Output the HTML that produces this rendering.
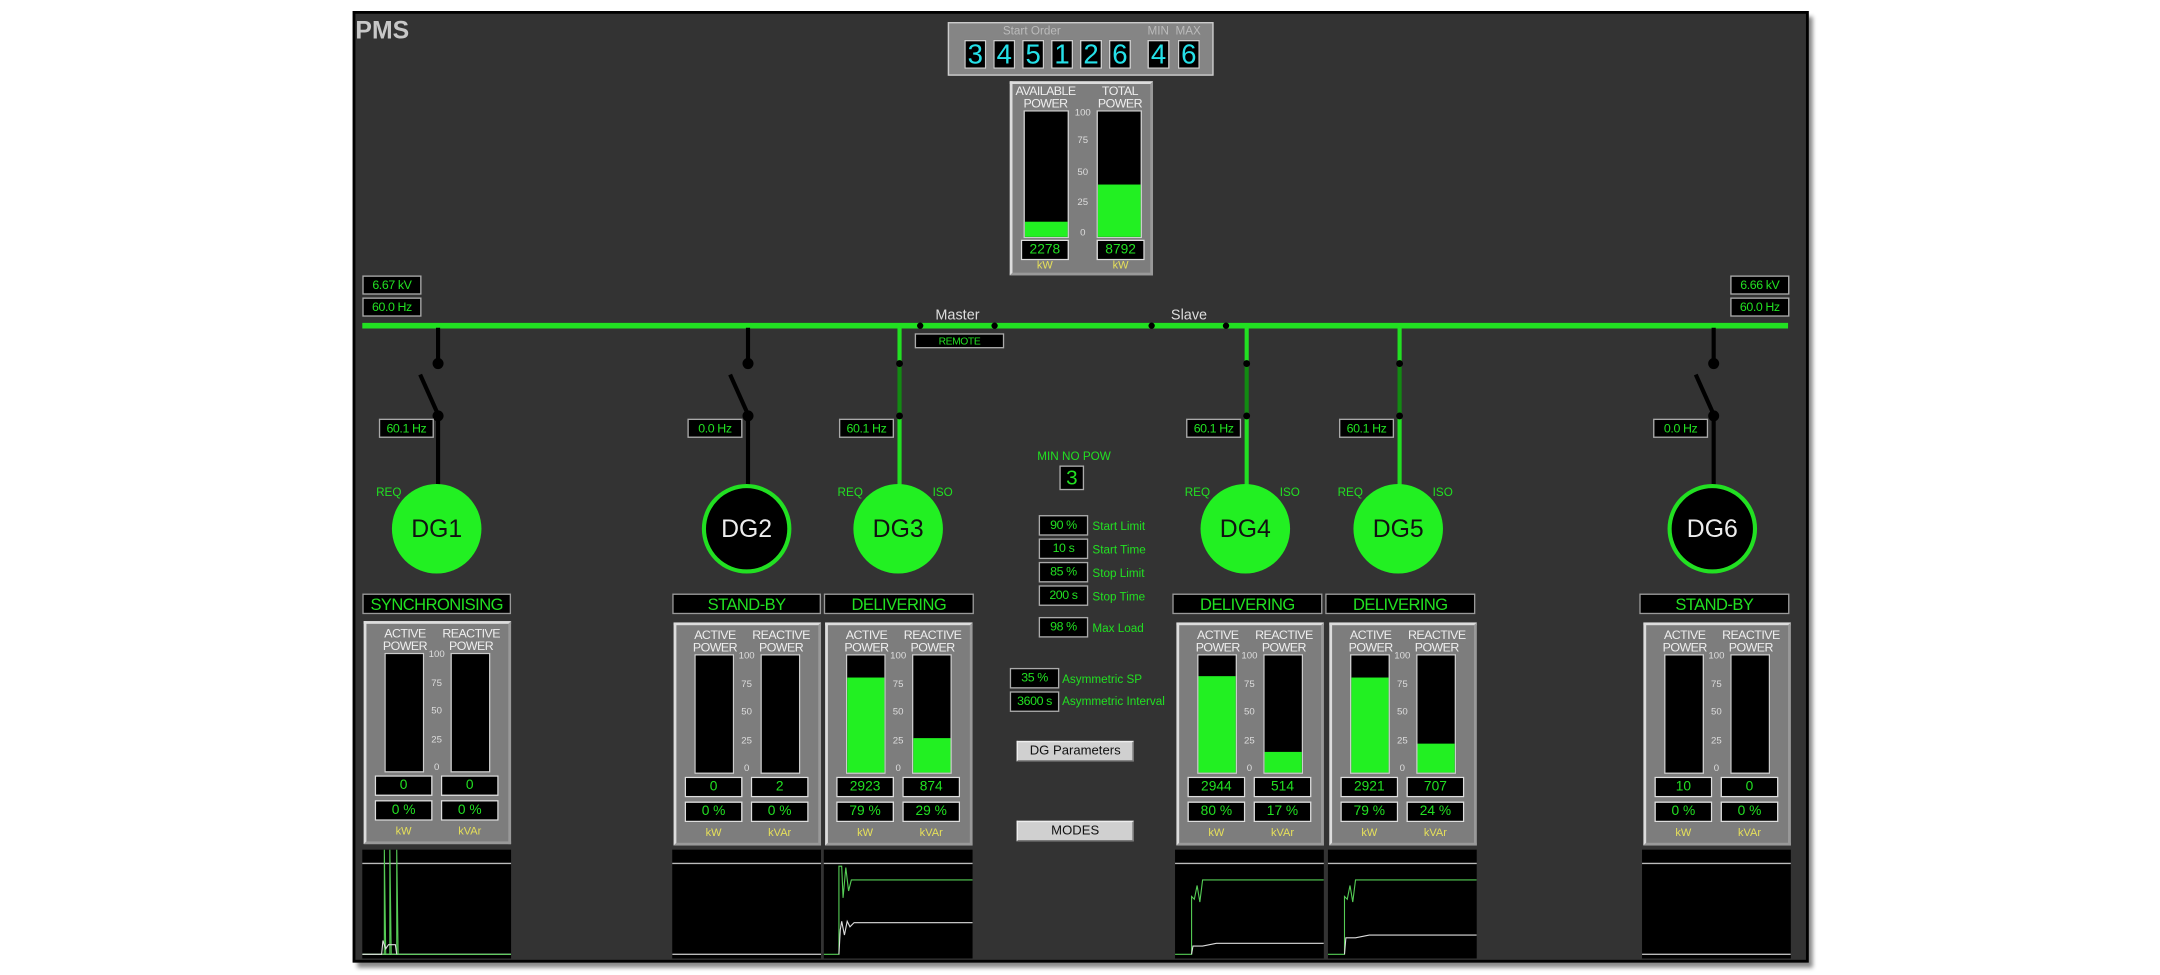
<!DOCTYPE html>
<html><head><meta charset="utf-8">
<style>
html,body{margin:0;padding:0;background:#fff;width:2160px;height:975px;overflow:hidden}
#s{position:absolute;left:0;top:0;width:1568px;height:708px;transform:scale(1.37755,1.3771);transform-origin:0 0;font-family:"Liberation Sans Narrow","Liberation Sans",sans-serif}
#s div{position:absolute;box-sizing:border-box}
.frame{left:256px;top:8px;width:1057px;height:691px;background:#333;border:2px solid #000;box-shadow:3px 4px 3px #888}
.g{color:#22e022}
.box{background:#000;border:1px solid #aaa;color:#22e022;text-align:center;font-size:9px;line-height:13px;white-space:nowrap;letter-spacing:-0.3px}
.hdr{background:#000;border:1px solid #999;color:#22e022;text-align:center;font-size:12px;line-height:14px;white-space:nowrap;letter-spacing:-0.4px}
.pnl{background:#7d7d7d;border:2px solid #ddd;border-right-color:#999;border-bottom-color:#999}
.lab{color:#eee;font-size:9px;line-height:9px;text-align:center;letter-spacing:-0.4px;white-space:nowrap}
.bar{background:#000;border:1px solid #ccc}
.fill{background:#22f022;left:0;right:0;bottom:0}
.sc{color:#ddd;font-size:7px;text-align:center;width:18px}
.vb{background:#000;border:1px solid #ddd;color:#22e022;text-align:center;font-size:10px;line-height:13px;width:42px;height:15px}
.un{color:#e6e05a;font-size:8px;text-align:center;width:42px}
.chart{background:#000}
.pl{color:#22e022;font-size:8.5px;line-height:10px;white-space:nowrap}
.btn{background:#d0d0d0;border:1px solid #eee;border-right-color:#777;border-bottom-color:#777;color:#111;font-size:9.5px;line-height:13px;text-align:center}
.dig{background:#000;border:1px solid #ccc;color:#25e0e8;font-size:20px;line-height:20px;text-align:center;width:16px;height:21px}
</style></head><body>
<div id="s">
<div class="frame"></div>
<div style="left:258px;top:12px;color:#c8c8c8;font-size:18px;font-weight:bold;font-family:'Liberation Sans',sans-serif">PMS</div>

<div style="left:688px;top:16px;width:193px;height:39px;background:#858585;border:1px solid #ccc"></div>
<div style="left:728px;top:17px;color:#bbb;font-size:8.5px">Start Order</div>
<div style="left:833px;top:17px;color:#bbb;font-size:8.5px">MIN&nbsp;&nbsp;MAX</div>
<div class="dig" style="left:700px;top:29px">3</div>
<div class="dig" style="left:721px;top:29px">4</div>
<div class="dig" style="left:742px;top:29px">5</div>
<div class="dig" style="left:763px;top:29px">1</div>
<div class="dig" style="left:784px;top:29px">2</div>
<div class="dig" style="left:805px;top:29px">6</div>
<div class="dig" style="left:833px;top:29px">4</div>
<div class="dig" style="left:855px;top:29px">6</div>

<div class="pnl" style="left:733px;top:59px;width:104px;height:141px"></div>
<div class="lab" style="left:733px;top:62px;width:52px">AVAILABLE<br>POWER</div>
<div class="lab" style="left:788px;top:62px;width:50px">TOTAL<br>POWER</div>
<div class="bar" style="left:743px;top:80px;width:33px;height:93px"><div class="fill" style="height:11px"></div></div>
<div class="bar" style="left:796px;top:80px;width:33px;height:93px"><div class="fill" style="height:38px"></div></div>
<div class="sc" style="left:777px;top:79px">100</div>
<div class="sc" style="left:777px;top:99px">75</div>
<div class="sc" style="left:777px;top:122px">50</div>
<div class="sc" style="left:777px;top:144px">25</div>
<div class="sc" style="left:777px;top:166px">0</div>
<div class="vb" style="left:741px;top:174px;width:35px">2278</div>
<div class="vb" style="left:796px;top:174px;width:35px">8792</div>
<div class="un" style="left:741px;top:188px;width:35px">kW</div>
<div class="un" style="left:796px;top:188px;width:35px">kW</div>

<div class="box" style="left:263px;top:200px;width:43px;height:14px">6.67 kV</div>
<div class="box" style="left:263px;top:216px;width:43px;height:14px">60.0 Hz</div>
<div class="box" style="left:1256px;top:200px;width:43px;height:14px">6.66 kV</div>
<div class="box" style="left:1256px;top:216px;width:43px;height:14px">60.0 Hz</div>
<div style="left:679px;top:223px;color:#ddd;font-size:10.5px">Master</div>
<div style="left:850px;top:223px;color:#ddd;font-size:10.5px">Slave</div>
<div class="box" style="left:664px;top:242px;width:65px;height:11px;font-size:7.5px;line-height:10px">REMOTE</div>

<svg style="position:absolute;left:0;top:0" width="1568" height="708" font-family="Liberation Sans, sans-serif">
<line x1="263" y1="236.5" x2="1298" y2="236.5" stroke="#22e022" stroke-width="4"/>
<g fill="#000"><circle cx="668" cy="236.5" r="2.3"/><circle cx="722" cy="236.5" r="2.3"/><circle cx="836" cy="236.5" r="2.3"/><circle cx="890" cy="236.5" r="2.3"/></g>
<g stroke="#000" stroke-width="3" fill="#000">
<line x1="318" y1="238" x2="318" y2="264"/><circle cx="318" cy="264" r="2.5"/><line x1="305" y1="272" x2="318" y2="301"/><circle cx="318" cy="302" r="2.5"/><line x1="318" y1="302" x2="318" y2="352"/>
<line x1="543" y1="238" x2="543" y2="264"/><circle cx="543" cy="264" r="2.5"/><line x1="530" y1="272" x2="543" y2="301"/><circle cx="543" cy="302" r="2.5"/><line x1="543" y1="302" x2="543" y2="352"/>
<line x1="1244" y1="238" x2="1244" y2="264"/><circle cx="1244" cy="264" r="2.5"/><line x1="1231" y1="272" x2="1244" y2="301"/><circle cx="1244" cy="302" r="2.5"/><line x1="1244" y1="302" x2="1244" y2="352"/>
</g>
<g stroke-width="3">
<line x1="653" y1="238" x2="653" y2="264" stroke="#22e022"/><line x1="653" y1="264" x2="653" y2="302" stroke="#128a12"/><line x1="653" y1="302" x2="653" y2="352" stroke="#22e022"/>
<line x1="905" y1="238" x2="905" y2="264" stroke="#22e022"/><line x1="905" y1="264" x2="905" y2="302" stroke="#128a12"/><line x1="905" y1="302" x2="905" y2="352" stroke="#22e022"/>
<line x1="1016" y1="238" x2="1016" y2="264" stroke="#22e022"/><line x1="1016" y1="264" x2="1016" y2="302" stroke="#128a12"/><line x1="1016" y1="302" x2="1016" y2="352" stroke="#22e022"/>
</g>
<g fill="#000"><circle cx="653" cy="264" r="2.5"/><circle cx="653" cy="302" r="2.5"/><circle cx="905" cy="264" r="2.5"/><circle cx="905" cy="302" r="2.5"/><circle cx="1016" cy="264" r="2.5"/><circle cx="1016" cy="302" r="2.5"/></g>
<g font-size="18" text-anchor="middle">
<circle cx="317" cy="384" r="32.5" fill="#22f022"/><text x="317" y="390" fill="#111">DG1</text>
<circle cx="542" cy="384" r="31" fill="#000" stroke="#22e022" stroke-width="3"/><text x="542" y="390" fill="#eee">DG2</text>
<circle cx="652" cy="384" r="32.5" fill="#22f022"/><text x="652" y="390" fill="#111">DG3</text>
<circle cx="904" cy="384" r="32.5" fill="#22f022"/><text x="904" y="390" fill="#111">DG4</text>
<circle cx="1015" cy="384" r="32.5" fill="#22f022"/><text x="1015" y="390" fill="#111">DG5</text>
<circle cx="1243" cy="384" r="31" fill="#000" stroke="#22e022" stroke-width="3"/><text x="1243" y="390" fill="#eee">DG6</text>
</g>
</svg>

<div class="box" style="left:275px;top:304px;width:40px;height:14px">60.1 Hz</div>
<div class="box" style="left:499px;top:304px;width:40px;height:14px">0.0 Hz</div>
<div class="box" style="left:609px;top:304px;width:40px;height:14px">60.1 Hz</div>
<div class="box" style="left:861px;top:304px;width:40px;height:14px">60.1 Hz</div>
<div class="box" style="left:972px;top:304px;width:40px;height:14px">60.1 Hz</div>
<div class="box" style="left:1200px;top:304px;width:40px;height:14px">0.0 Hz</div>

<div class="pl" style="left:273px;top:352px">REQ</div>
<div class="pl" style="left:608px;top:352px">REQ</div><div class="pl" style="left:677px;top:352px">ISO</div>
<div class="pl" style="left:860px;top:352px">REQ</div><div class="pl" style="left:929px;top:352px">ISO</div>
<div class="pl" style="left:971px;top:352px">REQ</div><div class="pl" style="left:1040px;top:352px">ISO</div>

<div class="pl" style="left:753px;top:326px">MIN NO POW</div>
<div class="box" style="left:769px;top:338px;width:18px;height:18px;font-size:15px;line-height:17px">3</div>
<div class="box" style="left:754px;top:374px;width:36px;height:15px">90 %</div><div class="pl" style="left:793px;top:377px">Start Limit</div>
<div class="box" style="left:754px;top:391px;width:36px;height:15px">10 s</div><div class="pl" style="left:793px;top:394px">Start Time</div>
<div class="box" style="left:754px;top:408px;width:36px;height:15px">85 %</div><div class="pl" style="left:793px;top:411px">Stop Limit</div>
<div class="box" style="left:754px;top:425px;width:36px;height:15px">200 s</div><div class="pl" style="left:793px;top:428px">Stop Time</div>
<div class="box" style="left:754px;top:448px;width:36px;height:15px">98 %</div><div class="pl" style="left:793px;top:451px">Max Load</div>
<div class="box" style="left:733px;top:485px;width:36px;height:15px">35 %</div><div class="pl" style="left:771px;top:488px">Asymmetric SP</div>
<div class="box" style="left:733px;top:502px;width:36px;height:15px">3600 s</div><div class="pl" style="left:771px;top:504px">Asymmetric Interval</div>
<div class="btn" style="left:738px;top:538px;width:85px;height:15px">DG Parameters</div>
<div class="btn" style="left:738px;top:596px;width:85px;height:15px">MODES</div>

<!-- DG1 -->
<div style="left:263px;top:431px;width:108px;height:265px">
<div class="hdr" style="left:0;top:0;width:108px;height:15px">SYNCHRONISING</div>
<div class="pnl" style="left:1px;top:20px;width:107px;height:162px">
<div class="lab" style="left:4px;top:3px;width:48px">ACTIVE<br>POWER</div><div class="lab" style="left:52px;top:3px;width:48px">REACTIVE<br>POWER</div>
<div class="bar" style="left:13px;top:21px;width:29px;height:87px"></div><div class="bar" style="left:61px;top:21px;width:29px;height:87px"></div>
<div class="sc" style="left:42px;top:19px">100</div><div class="sc" style="left:42px;top:40px">75</div><div class="sc" style="left:42px;top:60px">50</div><div class="sc" style="left:42px;top:81px">25</div><div class="sc" style="left:42px;top:101px">0</div>
<div class="vb" style="left:6px;top:110px">0</div><div class="vb" style="left:54px;top:110px">0</div>
<div class="vb" style="left:6px;top:128px">0 %</div><div class="vb" style="left:54px;top:128px">0 %</div>
<div class="un" style="left:6px;top:146px">kW</div><div class="un" style="left:54px;top:146px">kVAr</div>
</div>
<div class="chart" style="left:0;top:186px;width:108px;height:79px"><svg width="108" height="79"><line x1="-3" y1="10" x2="111" y2="10" stroke="#bbb"/><line x1="0" y1="76" x2="108" y2="76" stroke="#bbb"/><polyline points="0,76 16,76 16,0 17,76 20,76 20,0 21,76 25,76 25,0 26,76 108,76" fill="none" stroke="#5c5" stroke-width="0.8"/><polyline points="0,76 14,76 15,66 17,72 19,69 24,69 25,76" fill="none" stroke="#ddd" stroke-width="0.8"/></svg></div>
</div>

<!-- DG2 -->
<div style="left:488px;top:431px;width:108px;height:265px">
<div class="hdr" style="left:0;top:0;width:108px;height:15px">STAND-BY</div>
<div class="pnl" style="left:1px;top:21px;width:107px;height:162px">
<div class="lab" style="left:4px;top:3px;width:48px">ACTIVE<br>POWER</div><div class="lab" style="left:52px;top:3px;width:48px">REACTIVE<br>POWER</div>
<div class="bar" style="left:13px;top:21px;width:29px;height:87px"></div><div class="bar" style="left:61px;top:21px;width:29px;height:87px"></div>
<div class="sc" style="left:42px;top:19px">100</div><div class="sc" style="left:42px;top:40px">75</div><div class="sc" style="left:42px;top:60px">50</div><div class="sc" style="left:42px;top:81px">25</div><div class="sc" style="left:42px;top:101px">0</div>
<div class="vb" style="left:6px;top:110px">0</div><div class="vb" style="left:54px;top:110px">2</div>
<div class="vb" style="left:6px;top:128px">0 %</div><div class="vb" style="left:54px;top:128px">0 %</div>
<div class="un" style="left:6px;top:146px">kW</div><div class="un" style="left:54px;top:146px">kVAr</div>
</div>
<div class="chart" style="left:0;top:186px;width:108px;height:79px"><svg width="108" height="79"><line x1="-3" y1="10" x2="111" y2="10" stroke="#bbb"/><line x1="0" y1="76" x2="108" y2="76" stroke="#bbb"/></svg></div>
</div>

<!-- DG3 -->
<div style="left:598px;top:431px;width:108px;height:265px">
<div class="hdr" style="left:0;top:0;width:109px;height:15px">DELIVERING</div>
<div class="pnl" style="left:1px;top:21px;width:107px;height:162px">
<div class="lab" style="left:4px;top:3px;width:48px">ACTIVE<br>POWER</div><div class="lab" style="left:52px;top:3px;width:48px">REACTIVE<br>POWER</div>
<div class="bar" style="left:13px;top:21px;width:29px;height:87px"><div class="fill" style="height:69px"></div></div><div class="bar" style="left:61px;top:21px;width:29px;height:87px"><div class="fill" style="height:25px"></div></div>
<div class="sc" style="left:42px;top:19px">100</div><div class="sc" style="left:42px;top:40px">75</div><div class="sc" style="left:42px;top:60px">50</div><div class="sc" style="left:42px;top:81px">25</div><div class="sc" style="left:42px;top:101px">0</div>
<div class="vb" style="left:6px;top:110px">2923</div><div class="vb" style="left:54px;top:110px">874</div>
<div class="vb" style="left:6px;top:128px">79 %</div><div class="vb" style="left:54px;top:128px">29 %</div>
<div class="un" style="left:6px;top:146px">kW</div><div class="un" style="left:54px;top:146px">kVAr</div>
</div>
<div class="chart" style="left:0;top:186px;width:108px;height:79px"><svg width="108" height="79"><line x1="-3" y1="10" x2="111" y2="10" stroke="#bbb"/><polyline points="0,76 11,76 11,12 13,12 14,35 16,13 18,30 20,22 108,22" fill="none" stroke="#5c5" stroke-width="0.8"/><polyline points="11,76 12,58 13,52 15,62 17,52 19,56 22,53 108,53" fill="none" stroke="#ddd" stroke-width="0.8"/></svg></div>
</div>

<!-- DG4 -->
<div style="left:851px;top:431px;width:108px;height:265px">
<div class="hdr" style="left:0;top:0;width:109px;height:15px">DELIVERING</div>
<div class="pnl" style="left:3px;top:21px;width:107px;height:162px">
<div class="lab" style="left:4px;top:3px;width:48px">ACTIVE<br>POWER</div><div class="lab" style="left:52px;top:3px;width:48px">REACTIVE<br>POWER</div>
<div class="bar" style="left:13px;top:21px;width:29px;height:87px"><div class="fill" style="height:70px"></div></div><div class="bar" style="left:61px;top:21px;width:29px;height:87px"><div class="fill" style="height:15px"></div></div>
<div class="sc" style="left:42px;top:19px">100</div><div class="sc" style="left:42px;top:40px">75</div><div class="sc" style="left:42px;top:60px">50</div><div class="sc" style="left:42px;top:81px">25</div><div class="sc" style="left:42px;top:101px">0</div>
<div class="vb" style="left:6px;top:110px">2944</div><div class="vb" style="left:54px;top:110px">514</div>
<div class="vb" style="left:6px;top:128px">80 %</div><div class="vb" style="left:54px;top:128px">17 %</div>
<div class="un" style="left:6px;top:146px">kW</div><div class="un" style="left:54px;top:146px">kVAr</div>
</div>
<div class="chart" style="left:2px;top:186px;width:108px;height:79px"><svg width="108" height="79"><line x1="-3" y1="10" x2="111" y2="10" stroke="#bbb"/><polyline points="0,76 12,76 12,34 14,36 16,26 18,38 20,22 108,22" fill="none" stroke="#5c5" stroke-width="0.8"/><polyline points="12,76 13,70 20,70 30,68 108,68" fill="none" stroke="#ddd" stroke-width="0.8"/></svg></div>
</div>

<!-- DG5 -->
<div style="left:962px;top:431px;width:108px;height:265px">
<div class="hdr" style="left:0;top:0;width:109px;height:15px">DELIVERING</div>
<div class="pnl" style="left:3px;top:21px;width:107px;height:162px">
<div class="lab" style="left:4px;top:3px;width:48px">ACTIVE<br>POWER</div><div class="lab" style="left:52px;top:3px;width:48px">REACTIVE<br>POWER</div>
<div class="bar" style="left:13px;top:21px;width:29px;height:87px"><div class="fill" style="height:69px"></div></div><div class="bar" style="left:61px;top:21px;width:29px;height:87px"><div class="fill" style="height:21px"></div></div>
<div class="sc" style="left:42px;top:19px">100</div><div class="sc" style="left:42px;top:40px">75</div><div class="sc" style="left:42px;top:60px">50</div><div class="sc" style="left:42px;top:81px">25</div><div class="sc" style="left:42px;top:101px">0</div>
<div class="vb" style="left:6px;top:110px">2921</div><div class="vb" style="left:54px;top:110px">707</div>
<div class="vb" style="left:6px;top:128px">79 %</div><div class="vb" style="left:54px;top:128px">24 %</div>
<div class="un" style="left:6px;top:146px">kW</div><div class="un" style="left:54px;top:146px">kVAr</div>
</div>
<div class="chart" style="left:2px;top:186px;width:108px;height:79px"><svg width="108" height="79"><line x1="-3" y1="10" x2="111" y2="10" stroke="#bbb"/><polyline points="0,76 12,76 12,34 14,36 16,26 18,38 20,22 108,22" fill="none" stroke="#5c5" stroke-width="0.8"/><polyline points="12,76 13,64 20,64 30,62 108,62" fill="none" stroke="#ddd" stroke-width="0.8"/></svg></div>
</div>

<!-- DG6 -->
<div style="left:1190px;top:431px;width:108px;height:265px">
<div class="hdr" style="left:0;top:0;width:109px;height:15px">STAND-BY</div>
<div class="pnl" style="left:3px;top:21px;width:107px;height:162px">
<div class="lab" style="left:4px;top:3px;width:48px">ACTIVE<br>POWER</div><div class="lab" style="left:52px;top:3px;width:48px">REACTIVE<br>POWER</div>
<div class="bar" style="left:13px;top:21px;width:29px;height:87px"></div><div class="bar" style="left:61px;top:21px;width:29px;height:87px"></div>
<div class="sc" style="left:42px;top:19px">100</div><div class="sc" style="left:42px;top:40px">75</div><div class="sc" style="left:42px;top:60px">50</div><div class="sc" style="left:42px;top:81px">25</div><div class="sc" style="left:42px;top:101px">0</div>
<div class="vb" style="left:6px;top:110px">10</div><div class="vb" style="left:54px;top:110px">0</div>
<div class="vb" style="left:6px;top:128px">0 %</div><div class="vb" style="left:54px;top:128px">0 %</div>
<div class="un" style="left:6px;top:146px">kW</div><div class="un" style="left:54px;top:146px">kVAr</div>
</div>
<div class="chart" style="left:2px;top:186px;width:108px;height:79px"><svg width="108" height="79"><line x1="-3" y1="10" x2="111" y2="10" stroke="#bbb"/><line x1="0" y1="76" x2="108" y2="76" stroke="#bbb"/></svg></div>
</div>

</div>
</body></html>
